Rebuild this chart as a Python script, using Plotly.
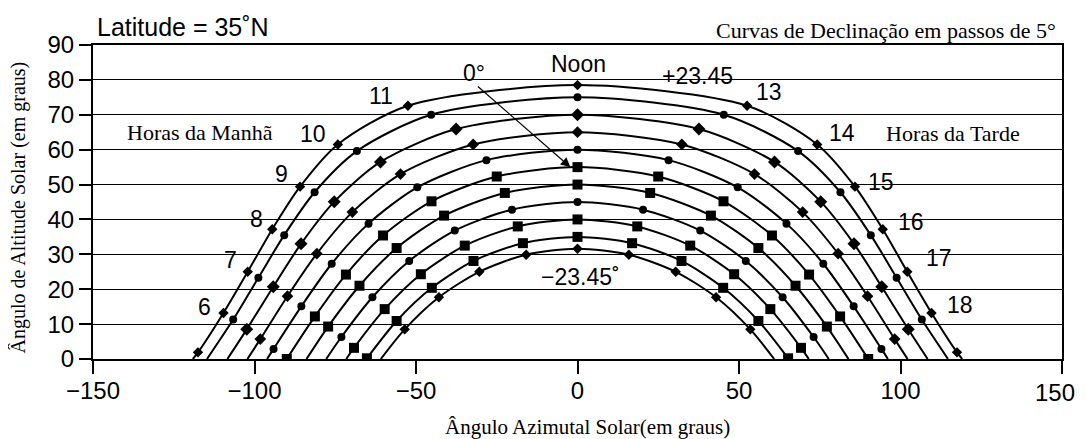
import plotly.graph_objects as go

# declination curves (deg), hourly sun positions
DECL = [23.45, 20, 15, 10, 5, 0, -5, -10, -15, -20, -23.45]

AZ = [
    [-117.5, -109.6, -102.1, -94.5, -85.9, -74.2, -52.5, 0, 52.5, 74.2, 85.9, 94.5, 102.1, 109.6, 117.5],
    [-106.6, -98.8, -90.8, -81.4, -68.3, -45.3, 0, 45.3, 68.3, 81.4, 90.8, 98.8, 106.6],
    [-102.4, -94.2, -85.6, -75.3, -61.0, -37.6, 0, 37.6, 61.0, 75.3, 85.6, 94.2, 102.4],
    [-98.2, -89.8, -80.7, -69.7, -54.8, -32.3, 0, 32.3, 54.8, 69.7, 80.7, 89.8, 98.2],
    [-94.1, -85.5, -76.1, -64.7, -49.6, -28.2, 0, 28.2, 49.6, 64.7, 76.1, 85.5, 94.1],
    [-90.0, -81.3, -71.7, -60.2, -45.2, -25.0, 0, 25.0, 45.2, 60.2, 71.7, 81.3, 90.0],
    [-77.2, -67.5, -56.0, -41.3, -22.5, 0, 22.5, 41.3, 56.0, 67.5, 77.2],
    [-73.1, -63.5, -52.1, -38.0, -20.3, 0, 20.3, 38.0, 52.1, 63.5, 73.1],
    [-69.2, -59.7, -48.5, -34.9, -18.5, 0, 18.5, 34.9, 48.5, 59.7, 69.2],
    [-65.2, -56.0, -45.1, -32.2, -16.9, 0, 16.9, 32.2, 45.1, 56.0, 65.2],
    [-53.5, -42.9, -30.4, -15.9, 0, 15.9, 30.4, 42.9, 53.5],
]
ALT = [
    [1.9, 13.2, 25.0, 37.2, 49.4, 61.5, 72.6, 78.5, 72.6, 61.5, 49.4, 37.2, 25.0, 13.2, 1.9],
    [11.3, 23.3, 35.5, 47.8, 59.6, 70.0, 75.0, 70.0, 59.6, 47.8, 35.5, 23.3, 11.3],
    [8.5, 20.7, 33.0, 45.1, 56.5, 65.9, 70.0, 65.9, 56.5, 45.1, 33.0, 20.7, 8.5],
    [5.7, 18.0, 30.2, 42.1, 53.0, 61.5, 65.0, 61.5, 53.0, 42.1, 30.2, 18.0, 5.7],
    [2.9, 15.1, 27.3, 38.8, 49.2, 57.0, 60.0, 57.0, 49.2, 38.8, 27.3, 15.1, 2.9],
    [0.0, 12.2, 24.2, 35.4, 45.2, 52.3, 55.0, 52.3, 45.2, 35.4, 24.2, 12.2, 0.0],
    [9.3, 21.0, 31.8, 41.1, 47.6, 50.0, 47.6, 41.1, 31.8, 21.0, 9.3],
    [6.3, 17.7, 28.1, 36.8, 42.8, 45.0, 42.8, 36.8, 28.1, 17.7, 6.3],
    [3.2, 14.3, 24.3, 32.5, 38.0, 40.0, 38.0, 32.5, 24.3, 14.3, 3.2],
    [0.2, 10.9, 20.4, 28.1, 33.2, 35.0, 33.2, 28.1, 20.4, 10.9, 0.2],
    [8.5, 17.7, 25.0, 29.9, 31.6, 29.9, 25.0, 17.7, 8.5],
]
# sunrise / sunset azimuth (altitude 0); None where an hour mark sits on the horizon
RISE_AZ = [119.1, 114.7, 108.4, 102.2, 96.1, None, 83.9, 77.8, 71.6, None, 60.9]

X_TICKS = [-150, -100, -50, 0, 50, 100, 150]
X_TICKTEXT = ["\u2212150", "\u2212100", "\u221250", "0", "50", "100", ""]

HOUR_LABELS = ["6", "7", "8", "9", "10", "11", "13", "14", "15", "16", "17", "18"]
HOUR_X = [-115.5, -107.4, -99.4, -91.6, -82.0, -60.7, 59.4, 82.0, 94.1, 103.4, 111.8, 118.3]
HOUR_Y = [14.9, 28.4, 40.1, 53.0, 64.5, 75.4, 76.5, 64.8, 50.7, 39.3, 28.9, 15.5]

# marker style per curve
SYMBOLS = ["diamond", "circle", "diamond", "diamond", "circle", "square",
           "square", "circle", "square", "square", "diamond"]
SIZES = [8, 8, 10, 9, 8, 10, 10, 8, 10, 10, 8]

SANS = "Liberation Sans, Arial, sans-serif"
SERIF = "Liberation Serif, Times New Roman, serif"

fig = go.Figure()

for i, d in enumerate(DECL):
    xs, ys = list(AZ[i]), list(ALT[i])
    if RISE_AZ[i] is not None:
        xs = [-RISE_AZ[i]] + xs + [RISE_AZ[i]]
        ys = [0] + ys + [0]
    fig.add_trace(go.Scatter(
        x=xs, y=ys, mode="lines",
        line=dict(color="black", width=2, shape="spline", smoothing=0.8),
        hoverinfo="skip", showlegend=False,
    ))
    fig.add_trace(go.Scatter(
        x=AZ[i], y=ALT[i], mode="markers",
        marker=dict(symbol=SYMBOLS[i], size=SIZES[i], color="black"),
        name=f"{d}", showlegend=False,
    ))

ann = []
for t, x, y in zip(HOUR_LABELS, HOUR_X, HOUR_Y):
    ann.append(dict(x=x, y=y, text=t, showarrow=False,
                    font=dict(family=SANS, size=23, color="black")))

for t, x, y in [("Noon", 0.3, 84.5), ("+23.45", 37.2, 81.1),
                ("0°", -31.9, 81.9), ("\u221223.45˚", 1.0, 23.5)]:
    ann.append(dict(x=x, y=y, text=t, showarrow=False,
                    font=dict(family=SANS, size=23, color="black")))

# arrow pointing from the 0° label to the equinox curve
ann.append(dict(x=-2.2, y=55.0, ax=-31.3, ay=78.5, axref="x", ayref="y",
                text="", showarrow=True, arrowhead=2, arrowsize=1.6,
                arrowwidth=1.2, arrowcolor="black"))

ann += [
    dict(x=-117, y=65.0, text="Horas da Manhã", showarrow=False,
         font=dict(family=SERIF, size=22, color="black")),
    dict(x=116.1, y=64.5, text="Horas da Tarde", showarrow=False,
         font=dict(family=SERIF, size=22, color="black")),
    dict(xref="paper", yref="paper", x=0.002, y=1.057, xanchor="left",
         yanchor="middle", text="Latitude = 35˚N", showarrow=False,
         font=dict(family=SANS, size=25, color="black")),
    dict(xref="paper", yref="paper", x=0.996, y=1.045, xanchor="right",
         yanchor="middle", text="Curvas de Declinação em passos de 5°",
         showarrow=False, font=dict(family=SERIF, size=22, color="black")),
    dict(xref="paper", yref="paper", x=0.51, y=-0.217, xanchor="center",
         yanchor="middle", text="Ângulo Azimutal Solar(em graus)",
         showarrow=False, font=dict(family=SERIF, size=21, color="black")),
    dict(xref="paper", yref="paper", x=-0.077, y=0.484, xanchor="center",
         yanchor="middle", text="Ângulo de Altitude Solar (em graus)",
         textangle=-90, showarrow=False,
         font=dict(family=SERIF, size=20, color="black")),
    # last x tick label, nudged to stay inside the figure edge
    dict(xref="paper", yref="y", x=1.0155, y=0, yshift=-33, xanchor="right",
         yanchor="middle", text="150", showarrow=False,
         font=dict(family=SANS, size=24, color="black")),
]

# the page puts the figure 8px in from the top-left corner, keep it inside the window
fig.update_layout(
    width=1070, height=431,
    margin=dict(l=85, r=16, t=37, b=80),
    paper_bgcolor="white", plot_bgcolor="white",
    font=dict(family=SANS, size=24, color="black"),
    annotations=ann,
    showlegend=False,
)
fig.update_xaxes(
    range=[-150, 150], tickvals=X_TICKS, ticktext=X_TICKTEXT,
    showgrid=False, zeroline=False, ticks="outside", ticklen=13,
    tickwidth=1.5, tickcolor="black", showline=True, linecolor="black",
    linewidth=2, mirror=True, ticklabelstandoff=-4,
)
fig.update_yaxes(
    range=[0, 90], dtick=10, showgrid=True, gridcolor="black", gridwidth=1.2,
    zeroline=False, ticks="outside", ticklen=12, tickwidth=1.5,
    tickcolor="black", showline=True, linecolor="black", linewidth=2,
    mirror=True,
)

fig.write_html("out.html")
